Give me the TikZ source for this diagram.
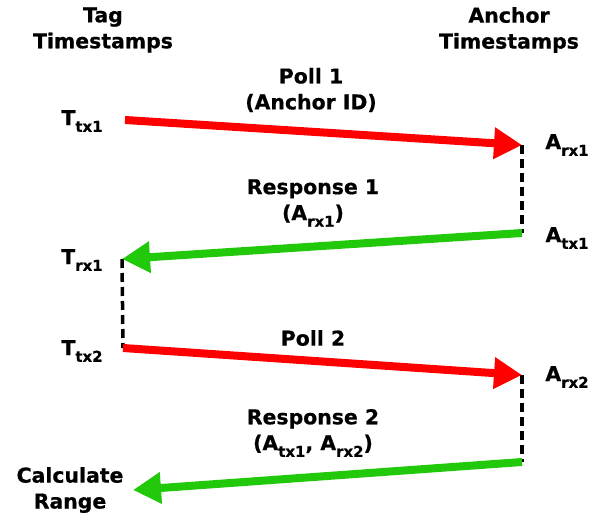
\documentclass[tikz,border=0pt]{standalone}
\usepackage{fontspec}
\setmainfont{DejaVu Sans}[BoldFeatures={FakeBold=0.6}]
\usetikzlibrary{arrows.meta}
\definecolor{arred}{RGB}{255,0,0}
\definecolor{argreen}{RGB}{34,200,10}
\newcommand{\mysb}[1]{\raisebox{-0.6ex}{\fontsize{15}{15}\selectfont #1}}
\tikzset{
  lbl/.style={font=\bfseries\fontsize{20.5}{26}\selectfont, align=center, inner sep=0pt},
  msg/.style={line width=8bp, -{Triangle[length=28bp,width=30bp]}},
  pollarrow/.style={msg, draw=arred, fill=arred},
  resparrow/.style={msg, draw=argreen, fill=argreen},
  waitline/.style={line width=3.5bp, dash pattern=on 9bp off 5bp}
}
\begin{document}
\begin{tikzpicture}[x=1bp,y=-1bp]
\useasboundingbox (0,0) rectangle (600,515);
% headings
\node[lbl] (taghead) at (103,30) {Tag\\Timestamps};
\node[lbl] (anchead) at (509,30) {Anchor\\Timestamps};
% coordinates
\coordinate (t1) at (125,120);
\coordinate (a1) at (522,145);
\coordinate (a2) at (522,233);
\coordinate (t2) at (122,259);
\coordinate (t3) at (123,348);
\coordinate (a3) at (522,375);
\coordinate (a4) at (522,462);
\coordinate (t4) at (133,490);
% timestamp labels
\node[lbl] (ltx1) at (82,121) {T\mysb{tx1}};
\node[lbl] (larx1) at (567,145) {A\mysb{rx1}};
\node[lbl] (latx1) at (567,238) {A\mysb{tx1}};
\node[lbl] (lrx1) at (82,260) {T\mysb{rx1}};
\node[lbl] (ltx2) at (82,351) {T\mysb{tx2}};
\node[lbl] (larx2) at (567,377) {A\mysb{rx2}};
\node[lbl] (calc) at (70,490) {Calculate\\Range};
% message labels
\node[lbl] (poll1) at (311,90) {Poll 1\\(Anchor ID)};
\node[lbl] (resp1) at (313,203) {Response 1\\(A\mysb{rx1})};
\node[lbl] (poll2) at (313,338) {Poll 2};
\node[lbl] (resp2) at (313,433) {Response 2\\(A\mysb{tx1}, A\mysb{rx2})};
% dashed waits
\draw[waitline] (a1) -- (a2);
\draw[waitline] (t2) -- (t3);
\draw[waitline] (a3) -- (a4);
% arrows
\draw[pollarrow] (t1) -- (a1);
\draw[resparrow] (a2) -- (t2);
\draw[pollarrow] (t3) -- (a3);
\draw[resparrow] (a4) -- (t4);
\end{tikzpicture}
\end{document}
